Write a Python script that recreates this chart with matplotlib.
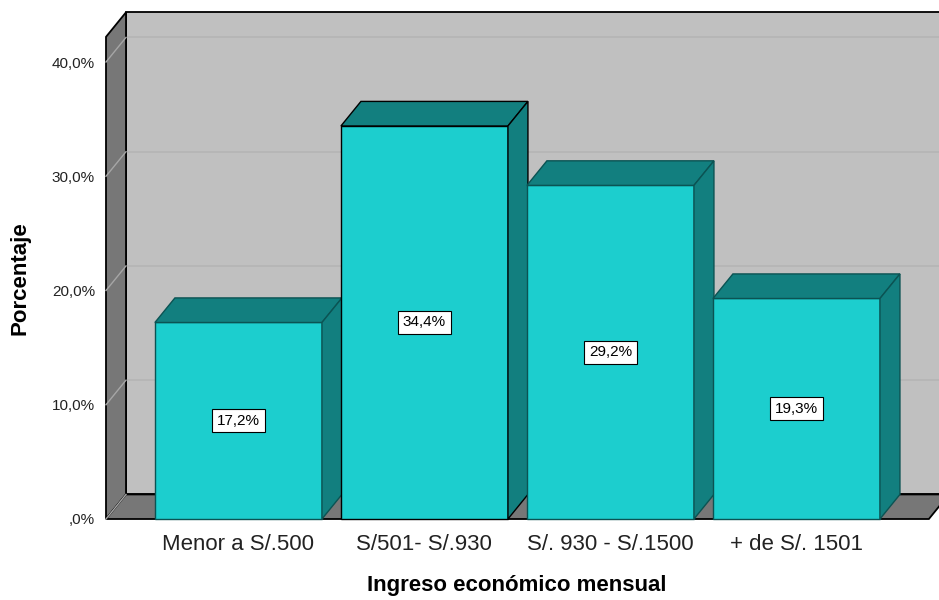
import matplotlib.pyplot as plt
from matplotlib.patches import Polygon

plt.rcParams['font.family'] = ['Liberation Sans', 'DejaVu Sans']

# data
categorias = ['Menor a S/.500', 'S/501- S/.930', 'S/. 930 - S/.1500', '+ de S/. 1501']
porcentajes = [17.2, 34.4, 29.2, 19.3]
etiquetas = ['17,2%', '34,4%', '29,2%', '19,3%']
ticks_y = [0, 10, 20, 30, 40]
ticks_y_txt = [',0%', '10,0%', '20,0%', '30,0%', '40,0%']

# colores estilo SPSS
c_frente = '#1ccece'
c_lado = '#127f7f'
c_pared = '#c0c0c0'
c_piso = '#777777'

# geometria 3D (en unidades de datos)
x0, x1 = -0.712, 3.712
techo = 42.2
dx, dy = 0.1075, 2.15
ancho = 0.898

fig = plt.figure(figsize=(9.39, 6.0), dpi=100)
ax = fig.add_axes([106 / 939, 81 / 600, 833 / 939, 506 / 600])
ax.set_xlim(x0, x0 + 833 / 186)
ax.set_ylim(0, 506 / 11.425)
for s in ax.spines.values():
    s.set_visible(False)
ax.patch.set_alpha(0)


def poly(pts, fc, ec='black', lw=1.0, z=1):
    p = Polygon(pts, closed=True, facecolor=fc, edgecolor=ec, linewidth=lw,
                zorder=z, clip_on=False)
    ax.add_patch(p)


# pared del fondo
poly([(x0 + dx, dy), (x1 + dx, dy), (x1 + dx, techo + dy), (x0 + dx, techo + dy)],
     c_pared, lw=1.3, z=1)
# lineas de cuadricula
for v in ticks_y[1:]:
    ax.plot([x0 + dx, x1 + dx], [v + dy, v + dy], color='#b4b4b4', lw=1.2,
            zorder=1.5, clip_on=False)
# pared izquierda
poly([(x0, 0), (x0 + dx, dy), (x0 + dx, techo + dy), (x0, techo)], c_piso, lw=1.3, z=2)
# piso
poly([(x0, 0), (x1, 0), (x1 + dx, dy), (x0 + dx, dy)], c_piso, lw=1.3, z=2)
for v in ticks_y:
    ax.plot([x0, x0 + dx], [v, v + dy], color='#a6a6a6', lw=1.0, zorder=2.5,
            clip_on=False)

# barras
for i, (val, txt) in enumerate(zip(porcentajes, etiquetas)):
    izq, der = i - ancho / 2, i + ancho / 2
    borde = 'black' if i == 1 else '#0b5353'
    poly([(izq, 0), (der, 0), (der, val), (izq, val)], c_frente, ec=borde, lw=1.0, z=3 + i)
    poly([(izq, val), (der, val), (der + dx, val + dy), (izq + dx, val + dy)],
         c_lado, ec=borde, lw=1.0, z=3 + i)
    poly([(der, 0), (der + dx, dy), (der + dx, val + dy), (der, val)],
         c_lado, ec=borde, lw=1.0, z=3 + i)
    ax.text(i, val / 2, txt, ha='center', va='center', fontsize=11, zorder=10,
            bbox=dict(boxstyle='square,pad=0.3', fc='white', ec='black', lw=0.8))

ax.set_xticks(range(len(categorias)))
ax.set_xticklabels(categorias, fontsize=16, color='#222222')
ax.set_yticks(ticks_y)
ax.set_yticklabels(ticks_y_txt, fontsize=11, color='#222222')
ax.tick_params(axis='x', length=0, pad=11)
ax.tick_params(axis='y', length=0, pad=8)

fig.text(517 / 939, 1 - 585 / 600, 'Ingreso económico mensual', ha='center',
         va='center', fontsize=16, fontweight='bold')
fig.text(20 / 939, 1 - 278 / 600, 'Porcentaje', ha='center', va='center',
         rotation=90, fontsize=16, fontweight='bold')

fig.savefig('out.png', dpi=100)
